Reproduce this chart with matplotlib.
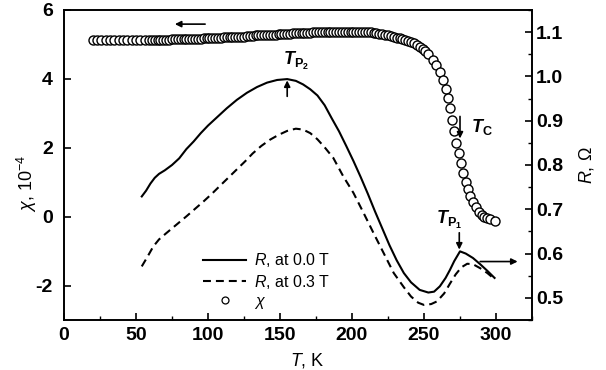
import numpy as np
import matplotlib
matplotlib.use('Agg')
import matplotlib.pyplot as plt
from matplotlib.ticker import MultipleLocator, FormatStrFormatter
from matplotlib.lines import Line2D

plt.rcParams['font.family'] = ['Liberation Sans', 'DejaVu Sans']
plt.rcParams['axes.unicode_minus'] = False
plt.rcParams['mathtext.fontset'] = 'custom'
plt.rcParams['mathtext.rm'] = 'Liberation Sans'
plt.rcParams['mathtext.it'] = 'Liberation Sans:italic'
plt.rcParams['mathtext.bf'] = 'Liberation Sans:bold'
plt.rcParams['mathtext.bfit'] = 'Liberation Sans:italic:bold'

# susceptibility chi (left axis, 10^-4)
T_chi = [20, 23, 26, 29, 32, 35, 38, 41, 44, 47, 50, 53, 56, 59,
         61, 63, 65, 67, 69, 71, 73, 75, 77, 79, 81, 83, 85, 87, 89, 91, 93, 95, 97, 99, 101,
         103, 105, 107, 109, 111, 113, 115, 117, 119, 121, 123, 125, 127, 129, 131, 133, 135,
         137, 139, 141, 143, 145, 147, 149, 151, 153, 155, 157, 159, 161, 163, 165, 167, 169,
         171, 173, 175, 177, 179, 181, 183, 185, 187, 189, 191, 193, 195, 197, 199, 201, 203,
         205, 207, 209, 211, 213, 215, 217, 219, 221, 223, 225, 227, 229, 231, 233, 235, 237,
         239, 241, 243, 245, 247, 249, 251, 253,
         256, 258.5, 261, 263, 265, 266.5, 268, 269.5, 271, 272.5, 274, 275.5, 277, 279,
         280.5, 282, 284, 286, 288, 290, 292, 294, 296, 299]
chi = [5.12, 5.12, 5.12, 5.12, 5.12, 5.12, 5.12, 5.13, 5.13, 5.13, 5.13, 5.13, 5.13, 5.14,
       5.14, 5.14, 5.14, 5.14, 5.14, 5.14, 5.14, 5.15, 5.15, 5.15, 5.15, 5.16, 5.16, 5.16,
       5.17, 5.17, 5.17, 5.17, 5.18, 5.18, 5.18,
       5.19, 5.19, 5.20, 5.20, 5.21, 5.21, 5.21, 5.22, 5.22, 5.23, 5.23, 5.23, 5.24, 5.24,
       5.25, 5.26, 5.26, 5.26, 5.27, 5.27, 5.28, 5.28, 5.28, 5.29, 5.30, 5.30, 5.31, 5.31,
       5.32, 5.32, 5.33, 5.33, 5.33, 5.34, 5.34, 5.35, 5.35, 5.36, 5.36, 5.36, 5.36, 5.36,
       5.37, 5.37, 5.37, 5.37, 5.37, 5.37, 5.37, 5.37, 5.37, 5.37, 5.37, 5.36, 5.36, 5.35,
       5.34, 5.33, 5.31, 5.30, 5.28, 5.26, 5.24, 5.22, 5.20, 5.18, 5.16, 5.13, 5.10, 5.07,
       5.03, 4.98, 4.93, 4.87, 4.80, 4.71,
       4.56, 4.40, 4.21, 3.96, 3.72, 3.45, 3.15, 2.82, 2.48, 2.15, 1.84, 1.55, 1.28, 1.02,
       0.79, 0.60, 0.42, 0.27, 0.15, 0.06, 0.00, -0.05, -0.08, -0.12]

# resistance at 0.0 T (right axis, Ohm)
T_r0 = [54, 57, 60, 63, 66, 70, 75, 80, 85, 90, 95, 100, 106, 113, 120, 127, 134, 141, 148,
        155, 161, 166, 171, 176, 181, 186, 191, 196, 201, 206, 211, 216, 221, 226, 231, 236,
        241, 247, 253, 257, 261, 265, 268, 271, 275, 279, 284, 289, 294, 299]
R_00 = [0.729, 0.742, 0.758, 0.771, 0.780, 0.788, 0.800, 0.815, 0.836, 0.853, 0.872, 0.889,
        0.907, 0.928, 0.947, 0.963, 0.976, 0.986, 0.992, 0.994, 0.990, 0.982, 0.971, 0.957,
        0.935, 0.905, 0.876, 0.843, 0.809, 0.773, 0.735, 0.695, 0.657, 0.619, 0.585, 0.556,
        0.535, 0.518, 0.512, 0.514, 0.526, 0.545, 0.563, 0.583, 0.605, 0.600, 0.590, 0.576,
        0.561, 0.545]

# resistance at 0.3 T
T_r3 = [54, 58, 62, 66, 71, 78, 85, 91, 97, 103, 108, 114, 120, 126, 131, 137, 143, 149, 155,
        161, 166, 171, 176, 181, 187, 194, 201, 208, 215, 222, 229, 236, 241, 246, 250, 255,
        259, 264, 268, 272, 276, 280, 284, 289, 294, 298]
R_03 = [0.571, 0.593, 0.616, 0.632, 0.646, 0.665, 0.684, 0.701, 0.718, 0.736, 0.752, 0.771,
        0.790, 0.809, 0.826, 0.843, 0.857, 0.868, 0.877, 0.882, 0.880, 0.872, 0.858, 0.840,
        0.816, 0.774, 0.737, 0.692, 0.646, 0.601, 0.556, 0.524, 0.503, 0.489, 0.484, 0.486,
        0.492, 0.510, 0.532, 0.553, 0.569, 0.577, 0.576, 0.567, 0.556, 0.545]

legend_labels = [r'$R$, at 0.0 T', r'$R$, at 0.3 T', r'$\chi$']

fig = plt.figure(figsize=(6.06, 3.70), dpi=100)
ax = fig.add_axes([64/606, 1-320/370, 468/606, 310/370])
ax2 = ax.twinx()

ax.plot(T_chi, chi, 'o', ms=6.5, mfc='white', mec='black', mew=1.0, ls='none')
ax2.plot(T_r0, R_00, color='black', lw=1.5)
ax2.plot(T_r3, R_03, color='black', lw=1.5, ls='--', dashes=(3.8, 2.4))

ax.set_xlim(0, 325)
ax.set_ylim(-3, 6)
ax2.set_ylim(0.45, 1.15)
ax.set_xticks([0, 50, 100, 150, 200, 250, 300])
ax.xaxis.set_minor_locator(MultipleLocator(25))
ax.set_yticks([-2, 0, 2, 4, 6])
ax2.set_yticks([0.5, 0.6, 0.7, 0.8, 0.9, 1.0, 1.1])
ax2.yaxis.set_minor_locator(MultipleLocator(0.05))
ax2.yaxis.set_major_formatter(FormatStrFormatter('%.1f'))

for a in (ax, ax2):
    for s in a.spines.values():
        s.set_linewidth(1.2)
ax.tick_params(axis='x', which='major', direction='in', length=5, width=1.2, pad=5, labelsize=14)
ax.tick_params(axis='x', which='minor', direction='in', length=3, width=1)
ax.tick_params(axis='y', which='major', direction='in', length=5, width=1.2, pad=8, labelsize=14)
ax2.tick_params(axis='y', which='major', direction='in', length=5, width=1.2, pad=3, labelsize=14)
ax2.tick_params(axis='y', which='minor', direction='in', length=3, width=1)
for lab in ax.get_xticklabels() + ax.get_yticklabels() + ax2.get_yticklabels():
    lab.set_fontweight('bold')

fig.text(307/606, 1-360/370, r'$T$, K', fontsize=13, ha='center', va='center')
fig.text(27/606, 1-183/370, r'$\chi$, 10$^{-4}$', fontsize=13, rotation=90, ha='center', va='center')
fig.text(587/606, 1-165/370, r'$R$, Ω', fontsize=13, rotation=90, ha='center', va='center')

arrow = dict(arrowstyle='-|>', lw=1.2, color='black', mutation_scale=9, shrinkA=0, shrinkB=0)
ax.annotate('', xy=(77, 5.59), xytext=(98, 5.59), arrowprops=arrow)
ax2.annotate('', xy=(315, 0.582), xytext=(289, 0.582), arrowprops=arrow)
ax2.annotate('', xy=(155, 0.991), xytext=(155, 0.955), arrowprops=arrow)
ax.annotate('', xy=(275, 2.27), xytext=(275, 2.91), arrowprops=arrow)
ax2.annotate('', xy=(274.5, 0.609), xytext=(274.5, 0.647), arrowprops=arrow)

ax2.text(161, 1.035, r'$\mathbfit{T}_{\mathbf{P}_\mathbf{2}}$', fontsize=13, ha='center', va='center')
ax.text(290, 2.59, r'$\mathbfit{T}_{\mathbf{C}}$', fontsize=13, ha='center', va='center')
ax2.text(267.5, 0.676, r'$\mathbfit{T}_{\mathbf{P}_\mathbf{1}}$', fontsize=13, ha='center', va='center')

handles = [Line2D([], [], color='black', lw=1.5),
           Line2D([], [], color='black', lw=1.5, ls='--', dashes=(3.8, 2.4)),
           Line2D([], [], marker='o', ls='none', ms=5, mfc='white', mec='black', mew=0.9)]
ax2.legend(handles, legend_labels, loc='lower left', bbox_to_anchor=(0.297, 0.03),
           frameon=False, fontsize=11.5, handlelength=2.7, handletextpad=0.5,
           labelspacing=0.2, borderaxespad=0, borderpad=0, numpoints=1)

fig.savefig('out.png', dpi=100)
